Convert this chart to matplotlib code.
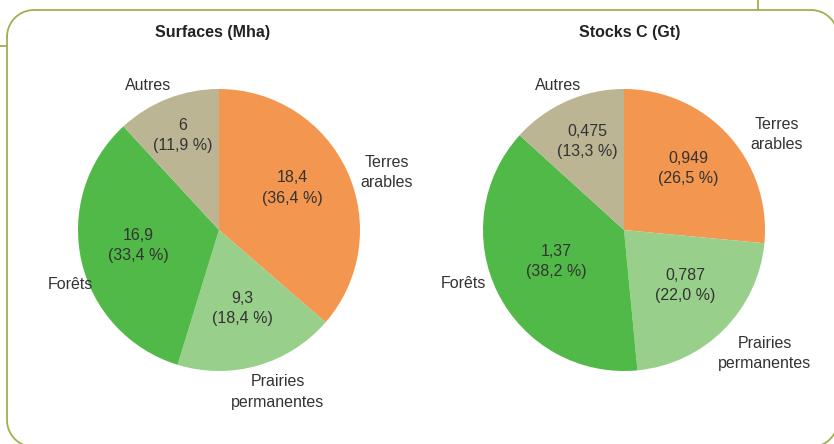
import matplotlib
matplotlib.use("Agg")
import matplotlib.pyplot as plt
import numpy as np

plt.rcParams['font.family'] = ['Liberation Sans', 'DejaVu Sans']

# data
categories = ["Terres\narables", "Prairies\npermanentes", "Forêts", "Autres"]
surf_values = [18.4, 9.3, 16.9, 6]
surf_labels = ["18,4\n(36,4 %)", "9,3\n(18,4 %)", "16,9\n(33,4 %)", "6\n(11,9 %)"]
stock_values = [0.949, 0.787, 1.37, 0.475]
stock_labels = ["0,949\n(26,5 %)", "0,787\n(22,0 %)", "1,37\n(38,2 %)", "0,475\n(13,3 %)"]

colors = ["#F3964F", "#98CF8B", "#51B947", "#BBB594"]
txt = "#333333"

# label spots in pie-radius units (x right, y up)
surf_in = [(0.518, 0.298), (0.163, -0.560), (-0.574, -0.113), (-0.255, 0.667)]
surf_out = [(1.19, 0.411), (0.418, -1.149), (-1.057, -0.383), (-0.504, 1.028)]
stock_in = [(0.454, 0.433), (0.433, -0.397), (-0.482, -0.220), (-0.262, 0.631)]
stock_out = [(1.085, 0.674), (1.0, -0.879), (-1.142, -0.376), (-0.468, 1.028)]

W, H = 834, 444
fig = plt.figure(figsize=(W / 100, H / 100), dpi=100)

# frame, drawn by hand in pixel coords (y down)
bg = fig.add_axes([0, 0, 1, 1])
bg.set_xlim(0, W)
bg.set_ylim(H, 0)
bg.axis("off")
rad = 27
x0, x1, y0, y1 = 7, 838, 10, 447
t = np.linspace(0, np.pi / 2, 30)
xs, ys = [], []
# corners: top-left, top-right, bottom-right, bottom-left
for cx, cy, a0 in [(x0 + rad, y0 + rad, np.pi), (x1 - rad, y0 + rad, 1.5 * np.pi),
                   (x1 - rad, y1 - rad, 0), (x0 + rad, y1 - rad, 0.5 * np.pi)]:
    xs += list(cx + rad * np.cos(a0 + t))
    ys += list(cy + rad * np.sin(a0 + t))
xs.append(xs[0])
ys.append(ys[0])
green = "#9DB14F"
bg.plot(xs, ys, color=green, lw=1.3, clip_on=False)
bg.plot([0, x0], [46, 46], color=green, lw=1.3)
bg.plot([758, 758], [0, y0], color=green, lw=1.3)


def draw_pie(cx, cy, r, values, inner, inner_pos, outer_pos, title, tx):
    ax = fig.add_axes([(cx - r) / W, (H - cy - r) / H, 2 * r / W, 2 * r / H])
    ax.pie(values, colors=colors, startangle=90, counterclock=False,
           radius=1, wedgeprops=dict(linewidth=0))
    ax.set_xlim(-1, 1)
    ax.set_ylim(-1, 1)
    ax.set_aspect("equal")
    ax.axis("off")
    for s, (x, y) in zip(inner, inner_pos):
        ax.text(x, y, s, ha="center", va="center", fontsize=11.5,
                color=txt, linespacing=1.42)
    for s, (x, y) in zip(categories, outer_pos):
        ax.text(x, y, s, ha="center", va="center", fontsize=11.5,
                color=txt, linespacing=1.42)
    fig.text(tx / W, 1 - 33 / H, title, ha="center", va="center",
             fontsize=11.5, fontweight="bold", color="#222222")


draw_pie(219, 230, 141, surf_values, surf_labels, surf_in, surf_out,
         "Surfaces (Mha)", 212.5)
draw_pie(624, 230, 141, stock_values, stock_labels, stock_in, stock_out,
         "Stocks C (Gt)", 629.5)

fig.savefig("out.png", dpi=100)
